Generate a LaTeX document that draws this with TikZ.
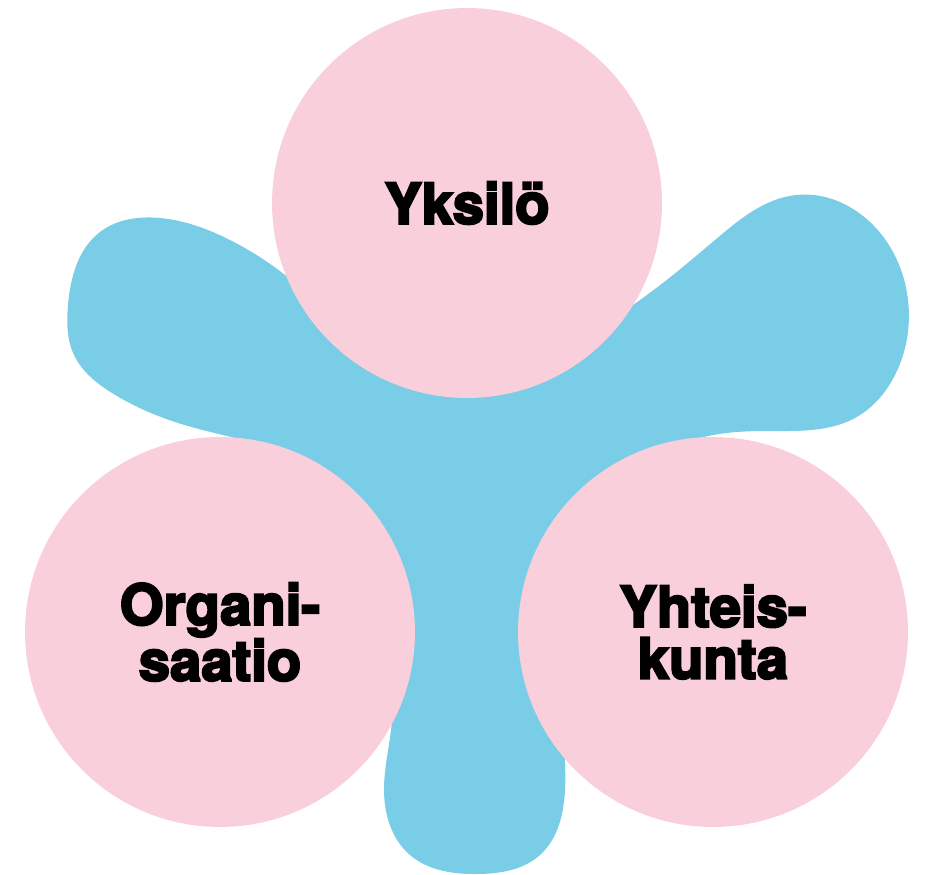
\documentclass[tikz,border=0pt]{standalone}
\usepackage{fontspec}
\setmainfont{TeX Gyre Heros}[BoldFeatures={FakeBold=4}]
\usepackage{tikz}
\usetikzlibrary{hobby}
\definecolor{bubblepink}{RGB}{248,207,219}
\definecolor{blobblue}{RGB}{122,205,230}

\begin{document}
\begin{tikzpicture}[x=0.02cm,y=-0.02cm,use Hobby shortcut,
		bubble/.style={circle,fill=bubblepink,minimum size=7.8cm,inner sep=0pt,
			align=center,font=\fontsize{32}{29.5}\selectfont\bfseries}
		]
		\useasboundingbox (0,0) rectangle (926,875);
		\fill[blobblue,closed=true] (68,305) .. (100,232) .. (160,218) .. (230,240) .. (285,275)
			.. (370,340) .. (467,360) .. (570,340)
			.. (640,300) .. (715,240) .. (796,195) .. (870,222) .. (908,300)
			.. (895,375) .. (855,418) .. (765,431) .. (690,441)
			.. (620,490) .. (575,580) .. (560,690)
			.. (565,790) .. (540,855) .. (477,874) .. (410,855)
			.. (384,790) .. (392,720)
			.. (380,620) .. (340,510) .. (270,450)
			.. (195,428) .. (112,393) .. (74,355);
		\node[bubble] (yksilo) at (467,203) {Yksilö};
		\node[bubble] (organisaatio) at (220,632) {Organi-\\saatio};
		\node[bubble] (yhteiskunta) at (713,632) {Yhteis-\\kunta};
\end{tikzpicture}
\end{document}
